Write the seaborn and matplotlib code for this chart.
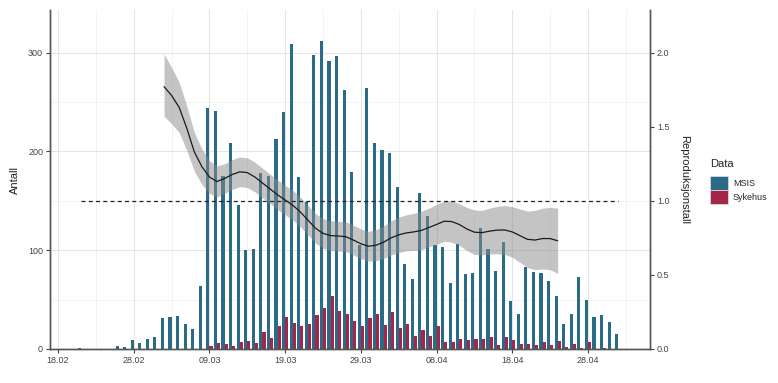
import matplotlib
matplotlib.use("Agg")
import matplotlib.pyplot as plt
from matplotlib.patches import Patch
from matplotlib.ticker import FixedLocator
import seaborn as sns
import pandas as pd

# ---------------- data ----------------
dates = [d.strftime("%d.%m") for d in pd.date_range("2020-02-18", "2020-05-02", freq="D")]

msis = [0, 0, 0, 1, 0, 0, 0, 0, 3, 2,
        9, 6, 10, 12, 31, 32, 33, 25, 20, 64,
        244, 241, 175, 208, 146, 100, 101, 178, 175, 213,
        240, 309, 174, 149, 298, 312, 291, 296, 262, 179,
        105, 264, 208, 201, 198, 164, 86, 71, 158, 135,
        105, 103, 67, 106, 76, 77, 122, 101, 79, 108,
        49, 35, 83, 78, 77, 69, 54, 25, 35, 73,
        50, 32, 34, 27, 15]

sykehus = [0, 0, 0, 0, 0, 0, 0, 0, 0, 0,
           0, 0, 0, 0, 0, 0, 0, 0, 0, 0,
           3, 6, 5, 3, 7, 8, 6, 17, 11, 23,
           32, 26, 23, 25, 34, 41, 54, 38, 35, 28,
           23, 31, 35, 24, 37, 21, 25, 13, 19, 13,
           23, 7, 7, 10, 9, 10, 10, 12, 4, 12,
           9, 5, 5, 4, 7, 4, 8, 2, 5, 1,
           7, 0, 1, 0, 0]

r_dates = dates[14:67]   # 03.03 - 24.04
r_mean = [1.77, 1.71, 1.63, 1.49, 1.33, 1.23, 1.16, 1.13, 1.15, 1.177,
          1.195, 1.19, 1.16, 1.12, 1.08, 1.04, 1.005, 0.97, 0.925, 0.87,
          0.815, 0.78, 0.765, 0.762, 0.758, 0.735, 0.71, 0.693, 0.70, 0.72,
          0.75, 0.77, 0.783, 0.79, 0.80, 0.82, 0.84, 0.862, 0.86, 0.84,
          0.81, 0.788, 0.785, 0.795, 0.802, 0.803, 0.79, 0.765, 0.74, 0.735,
          0.745, 0.745, 0.73]
r_upper = [1.99, 1.90, 1.80, 1.64, 1.46, 1.35, 1.27, 1.235, 1.25, 1.277,
           1.295, 1.29, 1.26, 1.22, 1.18, 1.14, 1.105, 1.07, 1.025, 0.97,
           0.915, 0.88, 0.865, 0.862, 0.858, 0.835, 0.81, 0.793, 0.805, 0.83,
           0.865, 0.89, 0.905, 0.915, 0.93, 0.95, 0.975, 0.997, 1.0, 0.98,
           0.955, 0.938, 0.935, 0.95, 0.962, 0.968, 0.96, 0.945, 0.93, 0.935,
           0.95, 0.955, 0.95]
r_lower = [1.57, 1.52, 1.46, 1.34, 1.20, 1.11, 1.05, 1.025, 1.05, 1.077,
           1.095, 1.09, 1.06, 1.02, 0.98, 0.94, 0.905, 0.87, 0.825, 0.77,
           0.715, 0.68, 0.665, 0.662, 0.658, 0.635, 0.61, 0.593, 0.595, 0.61,
           0.635, 0.65, 0.663, 0.665, 0.67, 0.69, 0.705, 0.727, 0.72, 0.70,
           0.665, 0.638, 0.635, 0.64, 0.642, 0.638, 0.62, 0.585, 0.55, 0.535,
           0.54, 0.535, 0.51]

threshold = 1.0
threshold_span = ["21.02", "02.05"]

tick_labels = ["18.02", "28.02", "09.03", "19.03", "29.03", "08.04", "18.04", "28.04"]
series_names = ["MSIS", "Sykehus"]
colors = ["#2a6c88", "#a6264b"]

# ---------------- figure ----------------
sns.set_theme(style="white")
plt.rcParams["font.family"] = ["Liberation Sans", "DejaVu Sans"]

fig = plt.figure(figsize=(7.78, 3.83), dpi=100)
ax = fig.add_axes([0.0643, 0.0888, 0.7712, 0.885])

df = pd.DataFrame({
    "Dato": dates * 2,
    "Antall": msis + sykehus,
    "Data": [series_names[0]] * len(dates) + [series_names[1]] * len(dates),
})

sns.barplot(data=df, x="Dato", y="Antall", hue="Data", order=dates,
            hue_order=series_names, palette=colors, width=0.82,
            linewidth=0, saturation=1, ax=ax, legend=False, zorder=2)

pos = {d: i for i, d in enumerate(dates)}
ax.set_xlim(-1.06, 78.2)
ax.set_ylim(0, 343)
ax.xaxis.set_major_locator(FixedLocator([pos[t] for t in tick_labels]))
ax.set_xticklabels(tick_labels)
ax.xaxis.set_minor_locator(FixedLocator([pos[t] + 5 for t in tick_labels]))
ax.set_yticks([0, 100, 200, 300])
ax.yaxis.set_minor_locator(FixedLocator([50, 150, 250]))
ax.grid(True, which="major", color="#e4e4e4", linewidth=0.8, zorder=0)
ax.grid(True, which="minor", color="#f1f1f1", linewidth=0.6, zorder=0)
ax.set_axisbelow(True)

ax.set_xlabel("")
ax.set_ylabel("Antall", fontsize=8, color="#222222", labelpad=6)

for side in ["left", "bottom", "right"]:
    ax.spines[side].set_color("#555555")
    ax.spines[side].set_linewidth(1.0)
ax.spines["top"].set_visible(False)
ax.tick_params(axis="both", which="major", labelsize=6.5, colors="#444444",
               length=3, width=0.8, direction="out", pad=2,
               bottom=True, left=True)
ax.tick_params(axis="both", which="minor", length=0)

# secondary axis: reproduction number
ax2 = ax.twinx()
ax2.set_ylim(0, 343 / 150)
rx = [pos[d] for d in r_dates]
ax2.fill_between(rx, r_lower, r_upper, color="#8a8a8a", alpha=0.5,
                 linewidth=0, zorder=3)
sns.lineplot(x=rx, y=r_mean, color="#1a1a1a", linewidth=0.9, ax=ax2, zorder=4)
ax2.plot([pos[threshold_span[0]], pos[threshold_span[1]]], [threshold, threshold],
         color="#222222", linestyle=(0, (3.2, 2.6)), linewidth=0.9, zorder=4)
ax2.set_yticks([0, 0.5, 1.0, 1.5, 2.0])
ax2.set_yticklabels(["0.0", "0.5", "1.0", "1.5", "2.0"])
ax2.set_ylabel("Reproduksjonstall", fontsize=8, color="#222222",
               rotation=270, labelpad=14)
ax2.grid(False)
for side in ["left", "bottom", "right"]:
    ax2.spines[side].set_color("#555555")
    ax2.spines[side].set_linewidth(1.0)
ax2.spines["top"].set_visible(False)
ax2.tick_params(axis="y", labelsize=6.5, colors="#444444", length=3,
                width=0.8, direction="out", pad=2, right=True)

# legend
handles = [Patch(facecolor=c, edgecolor="#d8d8d8", linewidth=0.6) for c in colors]
leg = fig.legend(handles, series_names, title="Data", loc="upper left",
                 bbox_to_anchor=(0.913, 0.585), frameon=False, fontsize=6.5,
                 title_fontsize=8, handlelength=2.0, handleheight=2.0,
                 handletextpad=0.5, labelspacing=0.05, borderaxespad=0,
                 borderpad=0)
leg._legend_box.align = "left"
leg._legend_box.sep = 5

fig.savefig("out.png", dpi=100)
